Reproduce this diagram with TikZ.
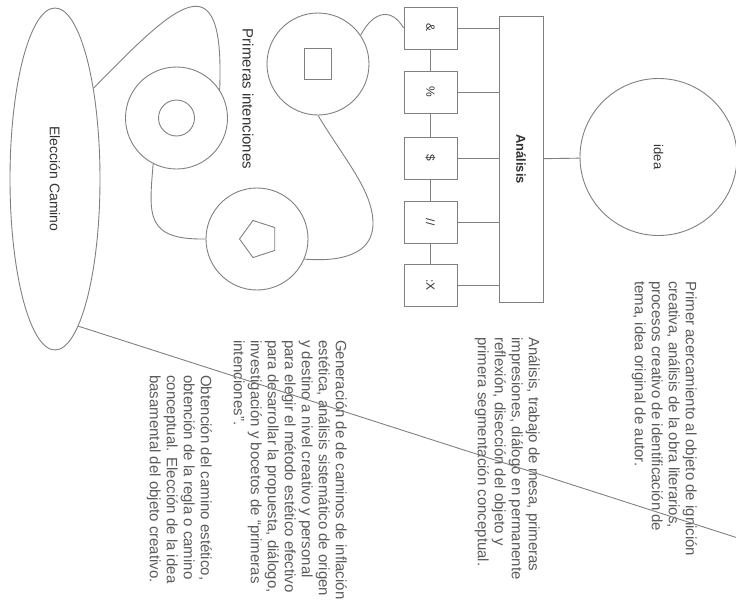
\documentclass[tikz,border=0pt]{standalone}
\usepackage{fontspec}
\usepackage{graphicx}
\setmainfont{Liberation Sans}
\usetikzlibrary{shapes.geometric}
\definecolor{edge}{HTML}{808080}
\definecolor{ink}{HTML}{5A5A5A}
\definecolor{lbl}{HTML}{333333}

\begin{document}
\begin{tikzpicture}[x=1pt,y=-1pt,
  link/.style={draw=edge,line width=0.9pt},
  outline/.style={draw=edge,line width=0.9pt,inner sep=0pt},
  boxnode/.style={outline,rectangle,minimum width=53pt,minimum height=42pt,
    text=lbl,font=\fontsize{12}{14}\selectfont},
  ring/.style={outline,circle,minimum size=102pt},
  para/.style={rotate=-90,anchor=north west,align=left,inner sep=0pt,
    text=ink,font=\fontsize{15}{17}\selectfont},
  vlabel/.style={rotate=-90,inner sep=0pt,text=lbl}
]
\useasboundingbox (0,0) rectangle (736,608);

% path selection ellipse
\node[outline,ellipse,minimum width=90pt,minimum height=342pt] (el) at (55,179) {};
\node[vlabel,font=\fontsize{14}{16}\selectfont] (elt) at (el.center) {Elección Camino};

% first intentions: three sketches
\node[ring] (dn) at (176.5,118) {};
\node[outline,circle,minimum size=36pt] (dnin) at (dn.center) {};
\node[ring] (sq) at (318,64) {};
\node[outline,rectangle,minimum width=27pt,minimum height=31pt] (sqin) at (sq.center) {};
\node[ring] (pc) at (257,239) {};
\node[outline,regular polygon,regular polygon sides=5,shape border rotate=90,
  minimum size=39pt] (pent) at (259,239) {};
\node[vlabel,font=\fontsize{15}{17}\selectfont] (pi) at (248,99) {Primeras intenciones};

% analysis fragments
\node[boxnode] (b1) at (430.5,28) {\rotatebox{-90}{\&}};
\node[boxnode] (b2) at (430.5,92) {\rotatebox{-90}{\%}};
\node[boxnode] (b3) at (430.5,158) {\rotatebox{-90}{\$}};
\node[boxnode] (b4) at (430.5,222) {\rotatebox{-90}{//}};
\node[boxnode] (b5) at (430.5,285) {\rotatebox{-90}{:X}};

\node[outline,rectangle,minimum width=44pt,minimum height=286pt,text=lbl,
  font=\fontsize{13}{15}\selectfont\bfseries] (an) at (521,159) {\rotatebox{-90}{Análisis}};

\node[outline,circle,minimum size=157pt,text=lbl,font=\fontsize{13}{15}\selectfont]
  (idea) at (658.5,157) {\rotatebox{-90}{idea}};

% descriptions
\node[para] (ta) at (697,281) {Primer acercamiento al objeto de ignición\\
creativa, análisis de la obra literarios,\\
procesos creativo de identificación de\\
tema, idea original de autor.};

\node[para] (tb) at (540,337) {Análisis, trabajo de mesa, primeras\\
impresiones, diálogo en permanente\\
reflexión, disección del objeto y\\
primera segmentación conceptual.};

\node[para] (tc) at (347,340) {Generación de de caminos de inflación\\
estética, análisis sistemático de origen\\
y destino a nivel creativo y personal\\
para elegir el método estético efectivo\\
para desarrollar la propuesta, diálogo,\\
investigación y bocetos de “primeras\\
intenciones”.};

\node[para] (td) at (212,375) {Obtención del camino estético,\\
obtención de la regla o camino\\
conceptual. Elección de la idea\\
basamental del objeto creativo.};

% connectors
\draw[link] (b1) -- (b2);
\draw[link] (b2) -- (b3);
\draw[link] (b3) -- (b4);
\draw[link] (b4) -- (b5);
\foreach \b in {b1,b2,b3,b4,b5}
  \draw[link] (\b.east) -- (\b.east -| an.west);
\draw[link] (an) -- (idea);

\draw[link] (b1.west) .. controls (392,8) and (374,10) .. (sq.34);
\draw[link] (sq.-90) .. controls (345,160) and (372,190) .. (373,222)
  .. controls (374,255) and (340,262) .. (pc.-23);
\draw[link] (pc.west) .. controls (145,240) and (149,215) .. (dn.-117);
\draw[link] (el.67) .. controls (175,5) and (225,-45) .. (dn.33);

\coordinate (far) at (741,539);
\draw[link] (el.-81) -- (far);
\end{tikzpicture}
\end{document}
